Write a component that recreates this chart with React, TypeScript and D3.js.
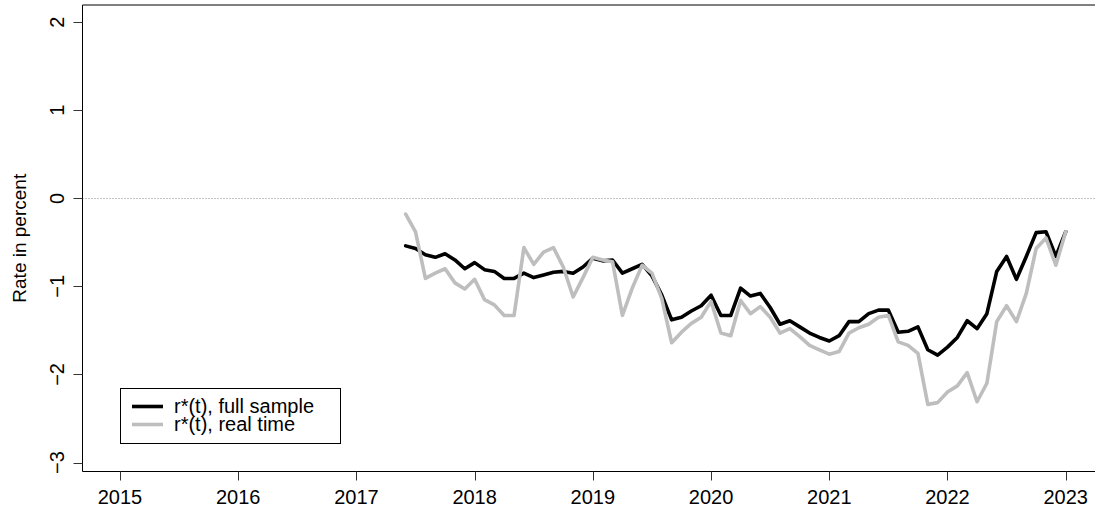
import React from "react";
import * as d3 from "d3";

const W = 1095;
const H = 515;

const xTicks = [2015, 2016, 2017, 2018, 2019, 2020, 2021, 2022, 2023];
const yTicks = [-3, -2, -1, 0, 1, 2];

// monthly observations, Jun 2017 .. Jan 2023
const months = d3.timeMonth.range(new Date(2017, 5, 1), new Date(2023, 1, 1));

const fullSample = [
  -0.54, -0.57, -0.64, -0.67, -0.63, -0.70, -0.80, -0.73, -0.81, -0.83,
  -0.91, -0.91, -0.85, -0.90, -0.87, -0.84, -0.83, -0.85, -0.78, -0.68,
  -0.71, -0.70, -0.85, -0.80, -0.75, -0.88, -1.10, -1.38, -1.35, -1.28,
  -1.22, -1.10, -1.33, -1.33, -1.02, -1.11, -1.08, -1.24, -1.43, -1.39,
  -1.46, -1.53, -1.58, -1.62, -1.56, -1.40, -1.40, -1.31, -1.27, -1.27,
  -1.52, -1.51, -1.46, -1.72, -1.78, -1.69, -1.58, -1.39, -1.48, -1.31,
  -0.83, -0.66, -0.92, -0.66, -0.39, -0.38, -0.66, -0.38,
];

const realTime = [
  -0.18, -0.38, -0.91, -0.85, -0.80, -0.96, -1.03, -0.92, -1.15, -1.21,
  -1.33, -1.33, -0.56, -0.75, -0.61, -0.56, -0.78, -1.12, -0.90, -0.67,
  -0.70, -0.72, -1.33, -1.02, -0.76, -0.85, -1.14, -1.64, -1.52, -1.42,
  -1.35, -1.17, -1.53, -1.56, -1.16, -1.31, -1.23, -1.35, -1.53, -1.48,
  -1.57, -1.67, -1.72, -1.77, -1.74, -1.53, -1.47, -1.43, -1.35, -1.33,
  -1.63, -1.67, -1.76, -2.34, -2.32, -2.20, -2.13, -1.98, -2.31, -2.10,
  -1.40, -1.22, -1.40, -1.08, -0.57, -0.45, -0.76, -0.38,
];

const seriesNames = ["r*(t), full sample", "r*(t), real time"];
const seriesColors = ["#000000", "#bebebe"];

const FONT = "'Liberation Sans', Arial, Helvetica, sans-serif";

export default function App() {
  const x = d3.scaleLinear().domain([2015, 2023]).range([120, 1065.7]);
  const y = d3.scaleLinear().domain([-3, 2]).range([462.5, 22.2]);
  const frame = { left: 82.5, top: 5, bottom: 471.5, right: W + 5 };

  const dec = (d: Date) => d.getFullYear() + d.getMonth() / 12;
  const line = d3
    .line<number>()
    .x((_, i) => x(dec(months[i])))
    .y((v) => y(v));

  const series = [fullSample, realTime];

  return (
    <svg
      width={W}
      height={H}
      style={{ position: "absolute", left: 0, top: 0, background: "#fff" }}
      fontFamily={FONT}
    >
      <rect x={0} y={0} width={W} height={H} fill="#fff" />
      {/* zero reference */}
      <line
        x1={frame.left}
        x2={W}
        y1={Math.round(y(0)) + 0.5}
        y2={Math.round(y(0)) + 0.5}
        stroke="#8a8a8a"
        strokeWidth={1}
        strokeDasharray="1 2"
      />
      {/* series */}
      {series.map((s, k) => (
        <path
          key={k}
          d={line(s) || ""}
          fill="none"
          stroke={seriesColors[k]}
          strokeWidth={3.6}
          strokeLinejoin="round"
          strokeLinecap="round"
        />
      ))}
      {/* frame */}
      <line x1={frame.left} x2={frame.right} y1={frame.top} y2={frame.top} stroke="#000" strokeWidth={1} />
      <line x1={frame.left} x2={frame.right} y1={frame.bottom} y2={frame.bottom} stroke="#000" strokeWidth={1} />
      <line x1={frame.left} x2={frame.left} y1={frame.top} y2={frame.bottom} stroke="#000" strokeWidth={1} />
      {/* x axis */}
      {xTicks.map((t) => (
        <g key={t}>
          <line
            x1={Math.round(x(t)) + 0.5}
            x2={Math.round(x(t)) + 0.5}
            y1={frame.bottom}
            y2={frame.bottom + 9}
            stroke="#333"
          />
          <text x={x(t)} y={504} textAnchor="middle" fontSize={20} fill="#000">
            {t}
          </text>
        </g>
      ))}
      {/* y axis */}
      {yTicks.map((t) => (
        <g key={t}>
          <line
            x1={frame.left - 9}
            x2={frame.left}
            y1={Math.round(y(t)) + 0.5}
            y2={Math.round(y(t)) + 0.5}
            stroke="#333"
          />
          <text
            transform={`translate(64,${y(t)}) rotate(-90)`}
            textAnchor="middle"
            fontSize={20}
            fill="#000"
          >
            {t < 0 ? "\u2212" + Math.abs(t) : String(t)}
          </text>
        </g>
      ))}
      <text
        transform={`translate(26,${(frame.top + frame.bottom) / 2}) rotate(-90)`}
        textAnchor="middle"
        fontSize={19}
        fill="#000"
      >
        Rate in percent
      </text>
      {/* legend */}
      <rect x={120.5} y={388.5} width={220} height={55} fill="#fff" stroke="#000" strokeWidth={1} />
      {seriesNames.map((n, k) => (
        <g key={n}>
          <line
            x1={132}
            x2={163}
            y1={406.5 + k * 18}
            y2={406.5 + k * 18}
            stroke={seriesColors[k]}
            strokeWidth={3.6}
          />
          <text x={174} y={413 + k * 18} fontSize={20} fill="#000">
            {n}
          </text>
        </g>
      ))}
    </svg>
  );
}
